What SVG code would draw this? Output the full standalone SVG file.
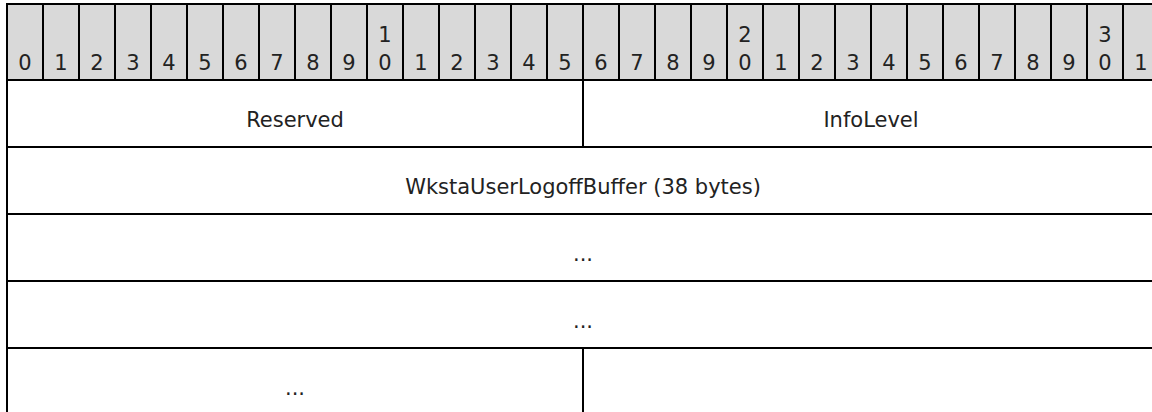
<svg xmlns="http://www.w3.org/2000/svg" width="1152" height="412" viewBox="0 0 1152 412">
<style>
.hdr{fill:#d9d9d9;stroke:#000;stroke-width:2}
.cell{fill:#fff;stroke:#000;stroke-width:2}
text{font-family:"DejaVu Sans",Verdana,sans-serif;font-size:21px;fill:#222;text-anchor:middle}
</style>
<rect width="1152" height="412" fill="#fff"/>
<g id="header">
<rect class="hdr" x="7" y="4" width="1152" height="76"/>
<path d="M43 4V80M79 4V80M115 4V80M151 4V80M187 4V80M223 4V80M259 4V80M295 4V80M331 4V80M367 4V80M403 4V80M439 4V80M475 4V80M511 4V80M547 4V80M583 4V80M619 4V80M655 4V80M691 4V80M727 4V80M763 4V80M799 4V80M835 4V80M871 4V80M907 4V80M943 4V80M979 4V80M1015 4V80M1051 4V80M1087 4V80M1123 4V80" stroke="#000" stroke-width="2" fill="none"/>
<text x="25" y="70">0</text>
<text x="61" y="70">1</text>
<text x="97" y="70">2</text>
<text x="133" y="70">3</text>
<text x="169" y="70">4</text>
<text x="205" y="70">5</text>
<text x="241" y="70">6</text>
<text x="277" y="70">7</text>
<text x="313" y="70">8</text>
<text x="349" y="70">9</text>
<text x="385" y="42">1</text><text x="385" y="70">0</text>
<text x="421" y="70">1</text>
<text x="457" y="70">2</text>
<text x="493" y="70">3</text>
<text x="529" y="70">4</text>
<text x="565" y="70">5</text>
<text x="601" y="70">6</text>
<text x="637" y="70">7</text>
<text x="673" y="70">8</text>
<text x="709" y="70">9</text>
<text x="745" y="42">2</text><text x="745" y="70">0</text>
<text x="781" y="70">1</text>
<text x="817" y="70">2</text>
<text x="853" y="70">3</text>
<text x="889" y="70">4</text>
<text x="925" y="70">5</text>
<text x="961" y="70">6</text>
<text x="997" y="70">7</text>
<text x="1033" y="70">8</text>
<text x="1069" y="70">9</text>
<text x="1105" y="42">3</text><text x="1105" y="70">0</text>
<text x="1141" y="70">1</text>
</g>
<g id="reserved"><rect class="cell" x="7" y="80" width="576" height="67"/><text x="295" y="127">Reserved</text></g>
<g id="infolevel"><rect class="cell" x="583" y="80" width="576" height="67"/><text x="871" y="127">InfoLevel</text></g>
<g id="buffer"><rect class="cell" x="7" y="147" width="1152" height="67"/><text x="583" y="194">WkstaUserLogoffBuffer (38 bytes)</text></g>
<g id="cont1"><rect class="cell" x="7" y="214" width="1152" height="67"/><text x="583" y="261">...</text></g>
<g id="cont2"><rect class="cell" x="7" y="281" width="1152" height="67"/><text x="583" y="328">...</text></g>
<g id="cont3"><rect class="cell" x="7" y="348" width="576" height="67"/><text x="295" y="395">...</text></g>
<g id="empty"><rect class="cell" x="583" y="348" width="576" height="67"/></g>
<g id="connectors"/>
</svg>
